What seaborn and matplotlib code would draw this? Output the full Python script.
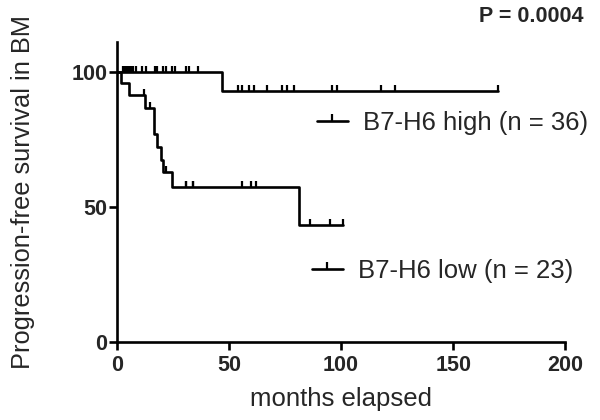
import seaborn as sns
import matplotlib.pyplot as plt
import pandas as pd
from matplotlib.lines import Line2D

# Kaplan-Meier steps (months, % progression-free)
high_time = [0, 46.7, 170]
high_surv = [100, 92.9, 92.9]
low_time = [0, 2, 5.5, 12.6, 16.5, 18, 19.6, 20.7, 24.7, 81, 101]
low_surv = [100, 95.7, 91.3, 86.7, 77.1, 72.3, 67.5, 62.7, 57.5, 43.1, 43.1]

# censored patients (the little tick marks)
high_cens_time = [2.5, 3, 3.5, 4, 4.5, 5, 5.5, 6, 6.5, 7, 8.5, 11, 13, 17, 18,
                  20.5, 22, 24.5, 26, 31, 32, 36,
                  54, 56, 59, 61, 67, 73.5, 76, 79, 96, 98, 118, 124, 170]
high_cens_surv = [100] * 22 + [92.9] * 13
low_cens_time = [12, 14.7, 21.9, 30.8, 31, 33.8, 34, 56, 60, 62, 86, 95, 101]
low_cens_surv = [91.3, 86.7, 62.7, 57.5, 57.5, 57.5, 57.5, 57.5, 57.5, 57.5,
                 43.1, 43.1, 43.1]

labels = ['B7-H6 high (n = 36)', 'B7-H6 low (n = 23)']

sns.set_style('ticks')
plt.rcParams['font.family'] = ['Liberation Sans', 'DejaVu Sans']

fig, ax = plt.subplots(figsize=(6, 4.2), dpi=100)
fig.subplots_adjust(left=0.195, right=0.942, bottom=0.186, top=0.9)

lw = 1.9
for t, s in [(high_time, high_surv), (low_time, low_surv)]:
    df = pd.DataFrame({'months': t, 'pfs': s})
    sns.lineplot(data=df, x='months', y='pfs', drawstyle='steps-post',
                 color='black', linewidth=lw, estimator=None, ax=ax)

for t, s in [(high_cens_time, high_cens_surv), (low_cens_time, low_cens_surv)]:
    sns.scatterplot(x=t, y=s, marker=2, s=20, color='black',
                    linewidth=1.6, ax=ax, zorder=3)

ax.set_xlim(0, 200)
ax.set_ylim(0, 111)
ax.set_xticks([0, 50, 100, 150, 200])
ax.set_yticks([0, 50, 100])
for lab in ax.get_xticklabels() + ax.get_yticklabels():
    lab.set_fontweight('bold')
    lab.set_fontsize(15.5)
ax.tick_params(axis='both', direction='out', length=5.5, width=lw, color='black')
ax.tick_params(axis='y', pad=1.5)
ax.tick_params(axis='x', pad=4)
for sp in ['left', 'bottom']:
    ax.spines[sp].set_linewidth(lw)
    ax.spines[sp].set_color('black')
sns.despine(ax=ax)

ax.set_xlabel('months elapsed', fontsize=18.5, labelpad=8)
ax.set_ylabel('Progression-free survival in BM', fontsize=18.3, labelpad=26)

# two separate legend entries, as in the original
handle = Line2D([], [], color='black', linewidth=lw, marker=2,
                markersize=5, markeredgewidth=1.6)
leg1 = ax.legend([handle], [labels[0]], loc='center left', frameon=False,
                 bbox_to_anchor=(0.528, 0.707), bbox_transform=fig.transFigure,
                 numpoints=1, handlelength=1.2, handletextpad=0.6,
                 borderpad=0, borderaxespad=0, fontsize=18.5)
ax.add_artist(leg1)
ax.legend([handle], [labels[1]], loc='center left', frameon=False,
          bbox_to_anchor=(0.52, 0.355), bbox_transform=fig.transFigure,
          numpoints=1, handlelength=1.2, handletextpad=0.6,
          borderpad=0, borderaxespad=0, fontsize=18.5)

fig.text(0.972, 0.96, 'P = 0.0004', ha='right', va='center',
         fontsize=15.5, fontweight='bold')

fig.savefig('out.png', dpi=100)
